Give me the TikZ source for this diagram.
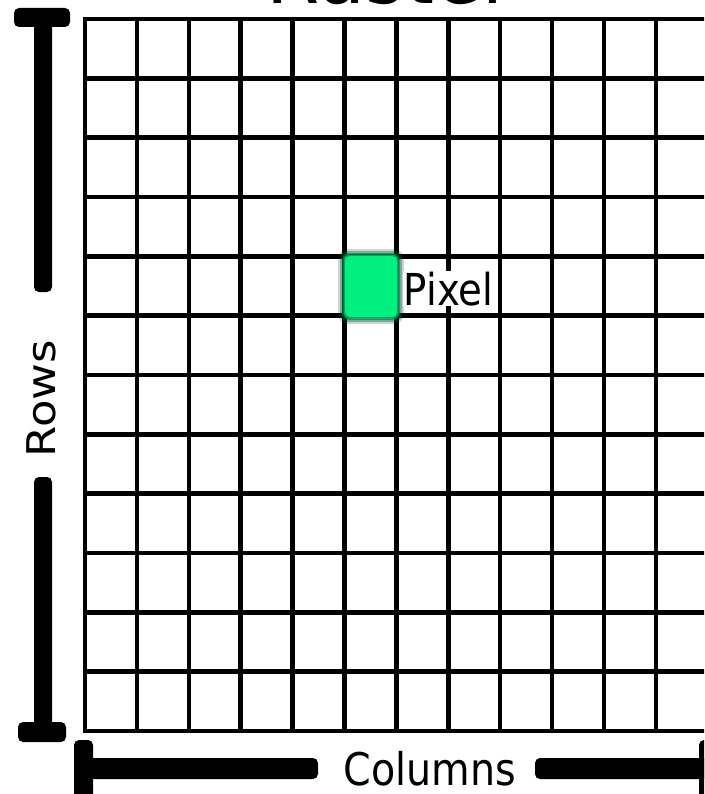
\documentclass[tikz,border=0pt]{standalone}
\usepackage{fontspec}
\setmainfont{DejaVu Sans}
\usepackage{graphicx}
\definecolor{pixgreen}{RGB}{0,240,128}
\begin{document}
\begin{tikzpicture}[x=1pt,y=-1pt,
  gridline/.style={line width=4.5pt, line cap=rect},
  barpart/.style={fill=black, rounded corners=5pt},
  labeltext/.style={font=\fontsize{45}{45}\selectfont, inner sep=0.5pt, fill=white}]
\useasboundingbox (0,0) rectangle (704,794);
\clip (0,0) rectangle (704,794);
% grid
\foreach \i in {0,...,12} \draw[gridline] ({85+51.9*\i},19) -- ({85+51.9*\i},731);
\foreach \j in {0,...,12} \draw[gridline] (85,{19+59.33*\j}) -- (720,{19+59.33*\j});
% pixel (soft edge)
\fill[pixgreen!25!black, opacity=0.2, rounded corners=10pt] (338,249) rectangle (404,324);
\fill[pixgreen!35!black, opacity=0.35, rounded corners=8pt] (340,251) rectangle (402,322);
\fill[pixgreen!50!black, opacity=0.6, rounded corners=7pt] (342,253) rectangle (400,320);
\fill[pixgreen!80!black, opacity=0.8, rounded corners=6pt] (343.5,254.5) rectangle (398.5,318.5);
\node[fill=pixgreen, rounded corners=5pt, minimum width=52pt, minimum height=61pt, inner sep=0pt] (pixel) at (371,286.5) {};
% title
\node[anchor=base, font=\fontsize{87}{87}\selectfont, inner sep=0pt] (title) at (390,4) {\scalebox{0.88}[1]{Raster}};
% rows bar
\fill[barpart] (14,8) rectangle (70,27);
\fill[barpart] (34,18) rectangle (52,292);
\fill[barpart] (34,477) rectangle (52,732);
\fill[barpart] (18,722) rectangle (66,742);
\node[labeltext, rotate=90, anchor=base] (rows) at (55,398.5) {\scalebox{1}[0.88]{Rows}};
% columns bar
\fill[barpart] (74,740) rectangle (93,800);
\fill[barpart] (85,758) rectangle (318,779);
\fill[barpart] (535,758) rectangle (710,779);
\fill[barpart] (699,740) rectangle (715,800);
\node[labeltext, anchor=base] (columns) at (430,785) {\scalebox{0.88}[1]{Columns}};
% pixel label
\node[labeltext, font=\fontsize{44}{44}\selectfont, anchor=base west] (pixlabel) at (403,305) {\scalebox{0.88}[1]{Pixel}};
\end{tikzpicture}
\end{document}
